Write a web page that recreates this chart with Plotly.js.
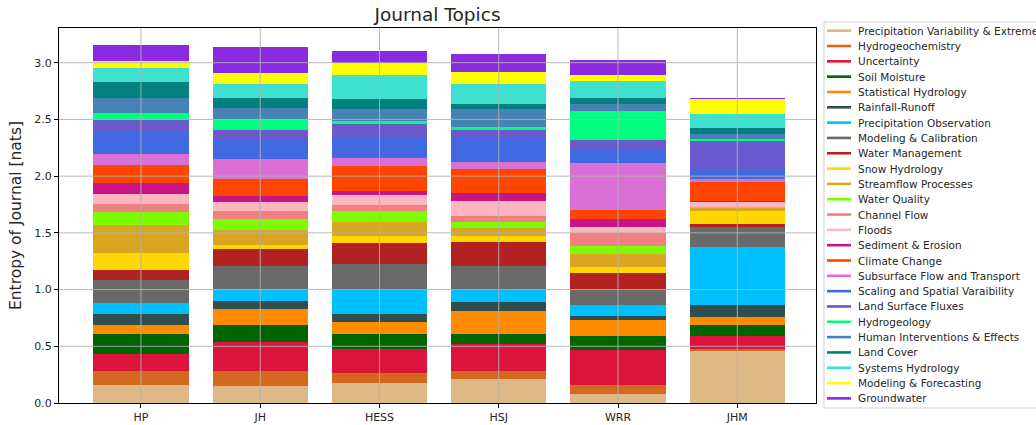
<!DOCTYPE html>
<html>
<head>
<meta charset="utf-8">
<script src="https://cdn.plot.ly/plotly-3.0.1.min.js"></script>
<style>html,body{margin:0;padding:0;background:#fff;}#chart{width:1036px;height:425px;}</style>
</head>
<body>
<div id="chart"></div>
<script>
const journals = ["HP", "JH", "HESS", "HSJ", "WRR", "JHM"];
const topics = [
  "Precipitation Variability & Extremes", "Hydrogeochemistry", "Uncertainty", "Soil Moisture",
  "Statistical Hydrology", "Rainfall-Runoff", "Precipitation Observation", "Modeling & Calibration",
  "Water Management", "Snow Hydrology", "Streamflow Processes", "Water Quality", "Channel Flow",
  "Floods", "Sediment & Erosion", "Climate Change", "Subsurface Flow and Transport",
  "Scaling and Spatial Varaibility", "Land Surface Fluxes", "Hydrogeology",
  "Human Interventions & Effects", "Land Cover", "Systems Hydrology", "Modeling & Forecasting",
  "Groundwater"
];
const colors = [
  "#DEB887", "#D2691E", "#DC143C", "#006400", "#FF8C00", "#2F4F4F", "#00BFFF", "#696969",
  "#B22222", "#FFD700", "#DAA520", "#7CFC00", "#F08080", "#FFB6C1", "#C71585", "#FF4500",
  "#DA70D6", "#4169E1", "#6A5ACD", "#00FF7F", "#4682B4", "#008080", "#40E0D0", "#FFFF00",
  "#8A2BE2"
];
// entropy contribution of each topic (same order as topics), per journal
const hp   = [0.162, 0.120, 0.153, 0.174, 0.079, 0.094, 0.097, 0.206, 0.091, 0.145, 0.250, 0.114, 0.071, 0.088, 0.094, 0.162, 0.091, 0.203, 0.097, 0.068, 0.132, 0.141, 0.121, 0.062, 0.144];
const jh   = [0.150, 0.132, 0.256, 0.150, 0.141, 0.071, 0.106, 0.200, 0.153, 0.038, 0.124, 0.100, 0.073, 0.077, 0.055, 0.145, 0.179, 0.171, 0.085, 0.100, 0.094, 0.091, 0.121, 0.100, 0.226];
const hess = [0.179, 0.083, 0.214, 0.133, 0.109, 0.064, 0.215, 0.229, 0.183, 0.062, 0.123, 0.100, 0.053, 0.085, 0.036, 0.223, 0.071, 0.185, 0.109, 0.032, 0.103, 0.088, 0.215, 0.103, 0.103];
const hsj  = [0.209, 0.070, 0.245, 0.085, 0.203, 0.079, 0.106, 0.209, 0.215, 0.050, 0.070, 0.053, 0.059, 0.129, 0.065, 0.212, 0.070, 0.215, 0.062, 0.026, 0.159, 0.041, 0.180, 0.109, 0.155];
const wrr  = [0.076, 0.086, 0.303, 0.123, 0.141, 0.042, 0.091, 0.135, 0.150, 0.050, 0.121, 0.070, 0.112, 0.053, 0.068, 0.082, 0.409, 0.120, 0.083, 0.261, 0.059, 0.056, 0.150, 0.053, 0.132];
const jhm  = [0.459, 0.017, 0.112, 0.100, 0.071, 0.103, 0.509, 0.179, 0.032, 0.112, 0.021, 0.009, 0.008, 0.039, 0.011, 0.165, 0.024, 0.088, 0.250, 0.015, 0.050, 0.050, 0.123, 0.132, 0.012];
const yTicks = [0.0, 0.5, 1.0, 1.5, 2.0, 2.5, 3.0];

const byJournal = [hp, jh, hess, hsj, wrr, jhm];
const xPos = journals.map((_, i) => i);

const FONT = "DejaVu Sans, sans-serif";
const W = 1036, H = 425;
const M = {l: 59, r: 220, t: 28, b: 22};
const PW = W - M.l - M.r, PH = H - M.t - M.b;
const px2x = px => (px - M.l) / PW;
const px2y = py => (H - M.b - py) / PH;

const traces = topics.map((name, k) => ({
  type: "bar",
  name: name,
  x: xPos,
  y: byJournal.map(arr => arr[k]),
  width: 0.8,
  marker: {color: colors[k], line: {width: 0}},
  showlegend: false,
  hoverinfo: "name+y"
}));

const shapes = [];
const annotations = [];
// grid drawn above bars (as in the reference)
yTicks.forEach(v => {
  if (v === 0) return;
  shapes.push({type: "line", xref: "paper", yref: "y", x0: 0, x1: 1, y0: v, y1: v,
    line: {color: "rgba(176,176,176,0.9)", width: 1}, layer: "above"});
});
xPos.forEach(v => {
  shapes.push({type: "line", xref: "x", yref: "paper", x0: v, x1: v, y0: 0, y1: 1,
    line: {color: "rgba(176,176,176,0.9)", width: 1}, layer: "above"});
});
// legend box
shapes.push({type: "rect", xref: "paper", yref: "paper",
  x0: px2x(824), x1: px2x(1045), y0: px2y(408), y1: px2y(22),
  line: {color: "#cfcfcf", width: 1}, fillcolor: "#ffffff", layer: "below"});
topics.forEach((name, k) => {
  const yc = 30.7 + 15.32 * k;
  shapes.push({type: "line", xref: "paper", yref: "paper",
    x0: px2x(827), x1: px2x(851), y0: px2y(yc), y1: px2y(yc),
    line: {color: colors[k], width: 2.6}});
  annotations.push({xref: "paper", yref: "paper", x: px2x(856), y: px2y(yc),
    xanchor: "left", yanchor: "middle", showarrow: false, text: name,
    font: {family: FONT, size: 10.5, color: "#262626"}});
});

const layout = {
  width: W, height: H,
  margin: M,
  paper_bgcolor: "#ffffff",
  plot_bgcolor: "#ffffff",
  barmode: "stack",
  showlegend: false,
  font: {family: FONT, color: "#262626"},
  title: {text: "Journal Topics", font: {family: FONT, size: 18.5, color: "#262626"},
    x: (M.l + PW / 2) / W, xanchor: "center", xref: "container",
    y: 1 - 15 / H, yanchor: "middle", yref: "container"},
  xaxis: {
    range: [-0.687, 5.66],
    tickvals: xPos, ticktext: journals,
    showgrid: false, zeroline: false,
    showline: true, mirror: true, linecolor: "#000", linewidth: 1,
    ticks: "outside", ticklen: 4, tickcolor: "#000", tickwidth: 1,
    tickfont: {family: FONT, size: 11, color: "#262626"}
  },
  yaxis: {
    range: [0, 3.306],
    tickvals: yTicks, ticktext: yTicks.map(v => v.toFixed(1)),
    showgrid: false, zeroline: false,
    showline: true, mirror: true, linecolor: "#000", linewidth: 1,
    ticks: "outside", ticklen: 4, tickcolor: "#000", tickwidth: 1,
    tickfont: {family: FONT, size: 11, color: "#262626"},
    title: {text: "Entropy of Journal [nats]", font: {family: FONT, size: 15.5, color: "#262626"}, standoff: 8}
  },
  shapes: shapes,
  annotations: annotations
};

Plotly.newPlot("chart", traces, layout, {displayModeBar: false, staticPlot: true});
</script>
</body>
</html>
